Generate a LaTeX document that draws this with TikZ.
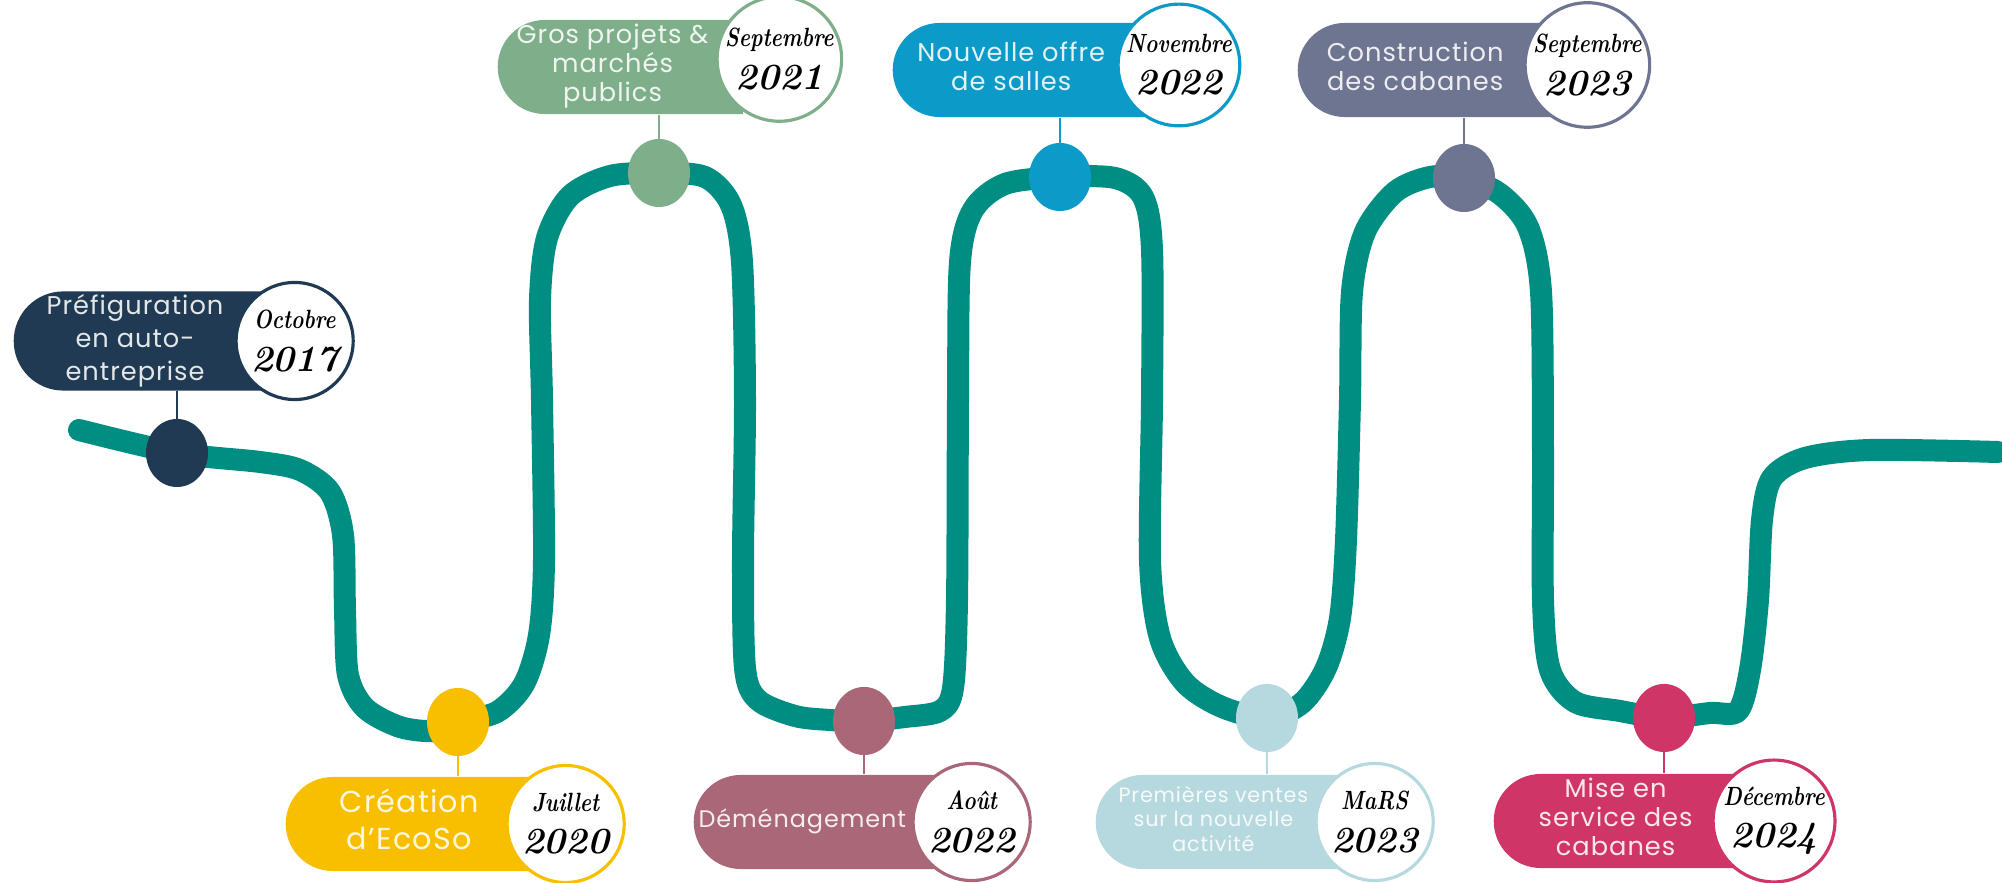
\documentclass[tikz,border=0pt]{standalone}
\usepackage{fontspec}
\usepackage{graphicx}
\usepackage{tikz}
\usetikzlibrary{positioning}
\usetikzlibrary{shapes.geometric}
\usetikzlibrary{shapes.misc}
\usetikzlibrary{backgrounds}

\newfontfamily\labelfont[LetterSpace=4]{Poppins}

\definecolor{road}{RGB}{0,141,130}
\definecolor{navy}{RGB}{31,58,82}
\definecolor{sun}{RGB}{248,190,0}
\definecolor{sage}{RGB}{127,175,138}
\definecolor{mauve}{RGB}{169,103,119}
\definecolor{sea}{RGB}{12,155,200}
\definecolor{ice}{RGB}{182,216,223}
\definecolor{slate}{RGB}{110,117,144}
\definecolor{rose}{RGB}{207,53,102}

% month and year, hand written in the circles
\newcommand{\hand}[2]{{\fontsize{7.5}{7.5}\selectfont\scalebox{0.8}[1]{#1}}\\{\fontsize{10.5}{10.5}\selectfont #2}}
% label lines, pushed left of the circle
\newcommand{\lbl}[2][0.6cm]{\hspace{-#1}\begin{tabular}{@{}c@{}}#2\end{tabular}}

\begin{document}
\begin{tikzpicture}[x=0.01cm, y=-0.01cm,
	box/.style={rounded rectangle, rounded rectangle right arc=none, fill=#1, text=white!88!#1, minimum height=0.94cm, inner sep=0pt, anchor=west, font=\labelfont\fontsize{7.3}{8.2}\selectfont},
	date/.style={circle, draw=#1, line width=0.9pt, fill=white, minimum size=1.17cm, inner sep=0pt, align=center, font=\bfseries\itshape},
	dot/.style={ellipse, fill=#1, minimum width=0.62cm, minimum height=0.68cm, inner sep=0pt},
	link/.style={draw=#1, line width=0.8pt}]
	\useasboundingbox (0,0) rectangle (2002,883);

	\node [dot=navy] (d1) at (177,453) {};
	\node [dot=sun] (d2) at (458,722) {};
	\node [dot=sage] (d3) at (659,173) {};
	\node [dot=mauve] (d4) at (864,721) {};
	\node [dot=sea] (d5) at (1060,177) {};
	\node [dot=ice] (d6) at (1267,718) {};
	\node [dot=slate] (d7) at (1464,178) {};
	\node [dot=rose] (d8) at (1664,718) {};

	\node [box=navy, minimum width=2.48cm, font=\labelfont\fontsize{7.3}{9.4}\selectfont] (b1) at (13,341) {\lbl[0.55cm]{Préfiguration\\en auto-\\entreprise}};
	\node [date=navy, right=-0.28cm of b1] (c1) {\hand{Octobre}{2017}};
	\node [box=sun, minimum width=2.47cm, font=\labelfont\fontsize{8.6}{10.5}\selectfont] (b2) at (285,824) {\lbl[0.18cm]{Création\\d’EcoSo}};
	\node [date=sun, right=-0.28cm of b2] (c2) {\hand{Juillet}{2020}};
	\node [box=sage, minimum width=2.45cm] (b3) at (497,67) {\lbl[0.44cm]{Gros projets \&\\marchés\\publics}};
	\node [date=sage, right=-0.28cm of b3, yshift=0.08cm] (c3) {\hand{Septembre}{2021}};
	\node [box=mauve, minimum width=2.45cm, font=\labelfont\fontsize{6.8}{8}\selectfont] (b4) at (693,822) {\lbl[0.3cm]{Déménagement}};
	\node [date=mauve, right=-0.28cm of b4] (c4) {\hand{Août}{2022}};
	\node [box=sea, minimum width=2.51cm] (b5) at (892,70) {\lbl[0.24cm]{Nouvelle offre\\de salles}};
	\node [date=sea, right=-0.28cm of b5, yshift=0.05cm] (c5) {\hand{Novembre}{2022}};
	\node [box=ice, minimum width=2.46cm, font=\labelfont\fontsize{5.9}{6.9}\selectfont] (b6) at (1095,822) {\lbl[0.28cm]{Premières ventes\\sur la nouvelle\\activité}};
	\node [date=ice, right=-0.28cm of b6] (c6) {\hand{MaRS}{2023}};
	\node [box=slate, minimum width=2.53cm] (b7) at (1297,70) {\lbl[0.28cm]{Construction\\des cabanes}};
	\node [date=slate, right=-0.28cm of b7, yshift=0.05cm] (c7) {\hand{Septembre}{2023}};
	\node [box=rose, minimum width=2.45cm] (b8) at (1493,821) {\lbl[0.3cm]{Mise en\\service des\\cabanes}};
	\node [date=rose, right=-0.28cm of b8] (c8) {\hand{Décembre}{2024}};

	\begin{scope}[on background layer]
		\draw[road, line width=0.22cm, line cap=round, line join=round] plot[smooth, tension=0.5] coordinates {(79,430) (d1.center) (260,462) (300,470) (330,492) (343,535) (345,610) (348,675) (365,708) (400,727) (435,731) (d2.center) (497,712) (524,684) (539,635) (544,560) (542,400) (540,300) (547,238) (570,196) (610,176) (d3.center) (705,177) (731,205) (742,262) (745,400) (743,560) (745,668) (758,700) (795,716) (830,720) (d4.center) (905,717) (940,711) (953,688) (957,600) (958,400) (960,262) (973,210) (1005,184) (d5.center) (1115,178) (1143,197) (1152,250) (1152,400) (1150,560) (1160,638) (1185,683) (1222,707) (d6.center) (1302,703) (1326,668) (1340,618) (1346,540) (1350,400) (1352,292) (1365,232) (1395,192) (1430,177) (d7.center) (1500,194) (1528,227) (1541,292) (1543,450) (1543,600) (1550,670) (1575,702) (1620,711) (d8.center) (1710,713) (1738,711) (1750,670) (1758,600) (1762,520) (1772,478) (1805,458) (1870,450) (1998,452)};
		\draw[link=navy] (d1.center) -- (d1.center |- b1.south);
		\draw[link=sun] (d2.center) -- (d2.center |- b2.north);
		\draw[link=sage] (d3.center) -- (d3.center |- b3.south);
		\draw[link=mauve] (d4.center) -- (d4.center |- b4.north);
		\draw[link=sea] (d5.center) -- (d5.center |- b5.south);
		\draw[link=ice] (d6.center) -- (d6.center |- b6.north);
		\draw[link=slate] (d7.center) -- (d7.center |- b7.south);
		\draw[link=rose] (d8.center) -- (d8.center |- b8.north);
	\end{scope}
\end{tikzpicture}
\end{document}
